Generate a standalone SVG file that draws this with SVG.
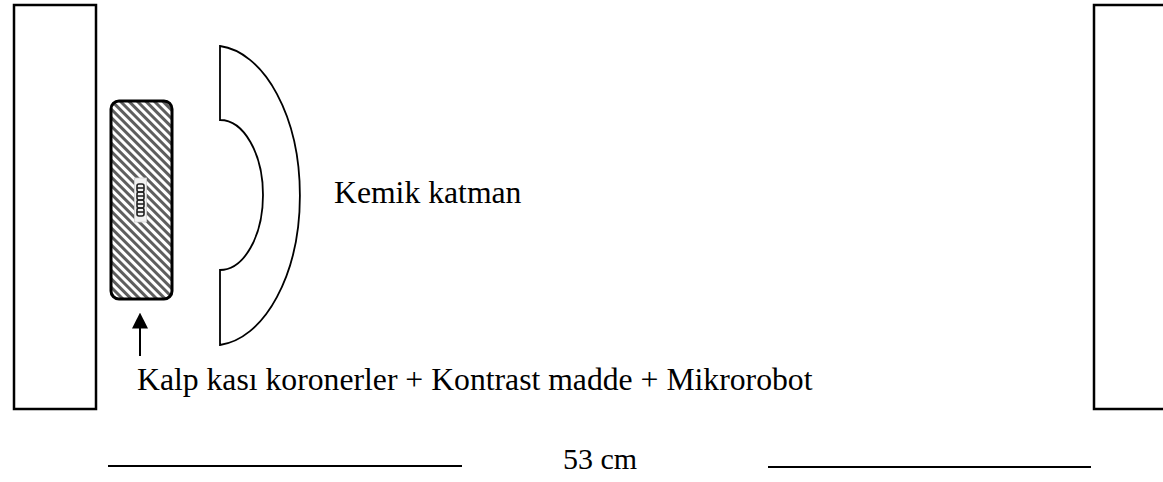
<svg xmlns="http://www.w3.org/2000/svg" width="1163" height="482" viewBox="0 0 1163 482">
  <style>
    .frame { fill: #ffffff; stroke: #000000; stroke-width: 2.5; }
    .outline { fill: #ffffff; stroke: #000000; stroke-width: 1.8; }
    .label { font-family: "Liberation Serif", "Times New Roman", serif; font-size: 31.7px; fill: #000000; }
    .rule { stroke: #000000; stroke-width: 2; }
  </style>
  <defs>
    <!-- diagonal hatching for the heart-muscle block -->
    <pattern id="hatch" patternUnits="userSpaceOnUse" width="6" height="6" patternTransform="rotate(-45)">
      <rect x="0" y="0" width="6" height="6" fill="#ffffff"/>
      <rect x="0" y="0" width="3" height="6" fill="#5e5e5e"/>
    </pattern>
    <marker id="arrowHead" viewBox="0 0 10 10" refX="1" refY="5" markerWidth="16" markerHeight="16" markerUnits="userSpaceOnUse" orient="auto">
      <path d="M0,0 L10,5 L0,10 Z" fill="#000000"/>
    </marker>
  </defs>

  <!-- side plates -->
  <g id="left-plate">
    <rect class="frame" x="14" y="5" width="82" height="404"/>
  </g>
  <g id="right-plate">
    <rect class="frame" x="1094" y="5" width="80" height="404"/>
  </g>

  <!-- heart muscle + coronaries block with microrobot -->
  <g id="heart-block">
    <rect x="111" y="101" width="61" height="198" rx="8" ry="8" fill="url(#hatch)" stroke="#000000" stroke-width="3"/>
    <g id="microrobot">
      <rect x="134.5" y="178" width="12" height="44" fill="#f2f2f2" stroke="#d0d0d0" stroke-width="0.8"/>
      <g fill="none" stroke="#222222" stroke-width="1.6">
        <rect x="137" y="184" width="7" height="8" rx="2"/>
        <rect x="137" y="192" width="7" height="8" rx="2"/>
        <rect x="137" y="200" width="7" height="8" rx="2"/>
        <rect x="137" y="208" width="7" height="8" rx="2"/>
        <line x1="137" y1="188" x2="144" y2="188"/>
        <line x1="137" y1="196" x2="144" y2="196"/>
        <line x1="137" y1="204" x2="144" y2="204"/>
        <line x1="137" y1="212" x2="144" y2="212"/>
      </g>
    </g>
  </g>

  <!-- bone layer -->
  <g id="bone-layer">
    <path class="outline" d="M220,46 L220,120 A43,75 0 0 1 220,270 L220,345 A87,150 0 0 0 220,46 Z"/>
    <text class="label" x="334" y="203">Kemik katman</text>
  </g>

  <!-- connectors -->
  <g id="connectors">
    <line x1="140" y1="356" x2="140" y2="327" stroke="#000000" stroke-width="2" marker-end="url(#arrowHead)"/>
  </g>

  <g id="block-caption">
    <text class="label" x="137" y="390">Kalp kası koronerler + Kontrast madde + Mikrorobot</text>
  </g>

  <!-- distance scale -->
  <g id="scale">
    <line class="rule" x1="108" y1="466" x2="462" y2="466"/>
    <line class="rule" x1="768" y1="467" x2="1091" y2="467"/>
    <text class="label" x="563" y="469" style="font-size:30px">53 cm</text>
  </g>
</svg>
